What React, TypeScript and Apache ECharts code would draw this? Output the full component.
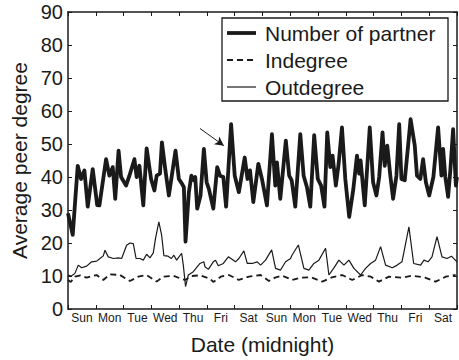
import React, { useEffect, useRef } from "react";
import * as echarts from "echarts";

const dayLabels = ["Sun", "Mon", "Tue", "Wed", "Thu", "Fri", "Sat", "Sun", "Mon", "Tue", "Wed", "Thu", "Fri", "Sat"];
const yTicks = [0, 90, 10];
const seriesNames = ["Number of partner", "Indegree", "Outdegree"];

const partnerDays = [0, 0.17, 0.35, 0.47, 0.59, 0.71, 0.89, 1.05, 1.13, 1.37, 1.49, 1.61, 1.7, 1.82, 1.91, 2.09, 2.21, 2.39, 2.47, 2.57, 2.71, 2.83, 2.99, 3.11, 3.19, 3.31, 3.38, 3.49, 3.63, 3.87, 3.99, 4.1, 4.17, 4.23, 4.35, 4.44, 4.53, 4.58, 4.65, 4.77, 4.89, 4.99, 5.07, 5.23, 5.37, 5.47, 5.59, 5.69, 5.87, 6.0, 6.15, 6.36, 6.46, 6.55, 6.67, 6.85, 6.99, 7.16, 7.34, 7.46, 7.52, 7.64, 7.84, 7.96, 8.05, 8.18, 8.36, 8.48, 8.6, 8.72, 8.86, 8.99, 9.11, 9.23, 9.33, 9.44, 9.52, 9.64, 9.74, 9.86, 9.98, 10.12, 10.27, 10.4, 10.48, 10.53, 10.68, 10.86, 10.98, 11.1, 11.2, 11.32, 11.4, 11.49, 11.6, 11.7, 11.82, 11.92, 12.0, 12.12, 12.24, 12.33, 12.48, 12.56, 12.68, 12.78, 12.88, 13.0, 13.15, 13.32, 13.44, 13.5, 13.58, 13.68, 13.76, 13.86, 13.96, 14.0];
const partnerValues = [29, 22.5, 43.4, 39.4, 42, 31, 42.4, 31.5, 31.4, 45.4, 40.4, 43, 33.4, 48, 40, 37.4, 40.4, 45.4, 40, 43.4, 31.4, 48.7, 39.4, 35.9, 40.4, 41, 50.5, 43, 34.4, 48, 39.4, 38, 36.9, 20.4, 35.4, 40.4, 39, 40, 30.4, 34.4, 48.5, 38.4, 36.4, 30.4, 43, 40.4, 40, 31, 56, 40.4, 35.4, 45.9, 39.4, 42, 32.4, 44, 39, 31.4, 53, 37.4, 44.4, 33.4, 51, 40.4, 39, 31, 53, 40.4, 36.9, 31, 52.7, 39.4, 37.4, 31, 53.5, 43, 46.5, 37.4, 44, 55, 39.4, 27.9, 36.4, 46.5, 41, 45, 31.4, 55, 38.4, 34.4, 40, 53.5, 43.4, 49.5, 40.4, 33.4, 40.4, 56, 39.4, 39, 49.5, 57.5, 49.5, 40.4, 39.4, 45.4, 38.4, 34.4, 40, 55, 40.4, 48.5, 40, 34, 42, 54.5, 37.4, 40];

const inDays = [0, 0.1, 0.25, 0.45, 0.67, 1.03, 1.27, 1.51, 1.87, 2.23, 2.53, 2.83, 3.19, 3.43, 3.79, 4.03, 4.21, 4.45, 4.75, 5.11, 5.23, 5.5, 5.79, 6.15, 6.51, 6.93, 7.23, 7.45, 7.71, 8.07, 8.37, 8.75, 9.15, 9.5, 9.87, 10.23, 10.59, 10.9, 11.19, 11.55, 12.02, 12.4, 12.85, 13.23, 13.6, 13.95];
const inValues = [8.8, 8.2, 9.8, 10.2, 9.5, 10.3, 8.8, 10.5, 10.3, 8.5, 9.8, 10.3, 8.3, 9.8, 10.1, 9.3, 8.8, 10, 10.2, 9.2, 8.2, 9.8, 10.3, 8.8, 9.8, 10.3, 8.5, 9.5, 10.1, 8.8, 9.5, 9.6, 8.3, 9.6, 10.3, 8.8, 10.3, 9.8, 8.3, 9.8, 9.5, 10.1, 9.5, 8.3, 9.8, 10.3];

const outDays = [0, 0.12, 0.25, 0.37, 0.49, 0.67, 0.85, 1.03, 1.15, 1.27, 1.33, 1.45, 1.63, 1.81, 1.93, 2.11, 2.23, 2.35, 2.45, 2.59, 2.71, 2.83, 2.95, 3.07, 3.15, 3.27, 3.37, 3.45, 3.6, 3.72, 3.81, 3.91, 4.09, 4.15, 4.23, 4.33, 4.51, 4.75, 4.89, 4.93, 5.05, 5.23, 5.31, 5.41, 5.59, 5.77, 5.85, 6.03, 6.15, 6.33, 6.45, 6.63, 6.81, 6.93, 7.11, 7.33, 7.47, 7.65, 7.83, 8.01, 8.06, 8.29, 8.49, 8.67, 8.85, 9.03, 9.27, 9.39, 9.56, 9.75, 9.93, 10.11, 10.29, 10.53, 10.71, 10.89, 11.07, 11.25, 11.43, 11.67, 11.85, 12.02, 12.27, 12.44, 12.69, 12.81, 12.96, 13.1, 13.28, 13.46, 13.64, 13.8, 14.0];
const outValues = [10.3, 10, 10.8, 13.3, 12.5, 13, 14.3, 14.5, 15.3, 16.1, 17.8, 15.8, 15.3, 15.5, 15.3, 19.3, 20, 19.8, 15.3, 15.3, 14.8, 16.6, 15.5, 17, 21.4, 26.4, 22.4, 16.2, 16, 15.3, 16.3, 14.8, 16.9, 13.3, 6.8, 10.3, 11.3, 13.8, 14.3, 12.8, 12, 14.3, 14.8, 13.1, 13.8, 15.8, 15.4, 14.3, 15.3, 17.6, 13.8, 13.8, 14.3, 13.3, 14.8, 17.9, 12.3, 11.8, 14.3, 15.3, 16.3, 19.4, 12.3, 11.8, 13.8, 14.8, 18.4, 10.3, 12.3, 14.8, 13.3, 14.8, 12.3, 10.3, 12.3, 13.8, 14.8, 18.9, 13.3, 12.5, 13.3, 14.3, 24.9, 13.8, 13.3, 14.8, 14.3, 15.8, 21.9, 15.8, 15.3, 16, 14.3];

const arrowFrom = [4.75, 54.7];
const arrowTo = [5.61, 49.5];

const zip = (xs: number[], ys: number[]) => xs.map((x, i) => [x, ys[i]]);

const FONT = "'Liberation Sans', Arial, Helvetica, sans-serif";
const INK = "#1a1a1a";

const lineStyles = [
  { width: 3.8, dash: null as null | number[] },
  { width: 1.8, dash: [6, 4] as null | number[] },
  { width: 1.2, dash: null as null | number[] },
];

export default function App() {
  const ref = useRef<HTMLDivElement>(null);
  useEffect(() => {
    if (!ref.current) return;
    const chart = echarts.init(ref.current, undefined, { renderer: "svg" });
    const axisLine = { show: true, lineStyle: { color: INK, width: 1.5 } };
    const tick = { show: true, inside: true, length: 4, lineStyle: { color: INK, width: 1 } };

    // legend drawn as graphic (MATLAB-style line keys)
    const legendBox = { x: 222, y: 18, w: 226, h: 83 };
    const rowY = [33, 60, 87];
    const legendChildren: any[] = [
      {
        type: "rect",
        shape: { x: legendBox.x, y: legendBox.y, width: legendBox.w, height: legendBox.h },
        style: { fill: "#fff", stroke: INK, lineWidth: 1.3 },
      },
    ];
    seriesNames.forEach((name, i) => {
      legendChildren.push({
        type: "line",
        shape: { x1: 227, y1: rowY[i], x2: 256, y2: rowY[i] },
        style: {
          stroke: INK,
          lineWidth: lineStyles[i].width,
          lineDash: lineStyles[i].dash || undefined,
        },
      });
      legendChildren.push({
        type: "text",
        x: 265,
        y: rowY[i],
        style: {
          text: name,
          fill: INK,
          font: `21px ${FONT}`,
          verticalAlign: "middle",
          align: "left",
        },
      });
    });

    chart.setOption({
      animation: false,
      backgroundColor: "#fff",
      textStyle: { fontFamily: FONT },
      grid: { left: 68, right: 2, top: 12, bottom: 49, containLabel: false },
      graphic: [{ type: "group", z: 100, children: legendChildren }],
      xAxis: [
        {
          type: "category",
          data: dayLabels,
          boundaryGap: true,
          position: "bottom",
          axisLine,
          axisTick: { ...tick, alignWithLabel: false, interval: 0 },
          axisLabel: { interval: 0, fontSize: 12, color: INK, margin: 3, fontFamily: FONT },
          name: "Date (midnight)",
          nameLocation: "middle",
          nameGap: 25,
          nameTextStyle: { fontSize: 21, color: INK, fontFamily: FONT },
          splitLine: { show: false },
        },
        {
          type: "value",
          min: 0,
          max: dayLabels.length,
          show: false,
        },
        {
          type: "category",
          data: dayLabels,
          boundaryGap: true,
          position: "top",
          axisLine,
          axisTick: { ...tick, alignWithLabel: false, interval: 0 },
          axisLabel: { show: false },
          splitLine: { show: false },
        },
      ],
      yAxis: [
        {
          type: "value",
          min: yTicks[0],
          max: yTicks[1],
          interval: yTicks[2],
          position: "left",
          axisLine,
          axisTick: tick,
          axisLabel: { fontSize: 20, color: INK, margin: 5, fontFamily: FONT },
          splitLine: { show: false },
          name: "Average peer degree",
          nameLocation: "middle",
          nameGap: 32,
          nameTextStyle: { fontSize: 21, color: INK, fontFamily: FONT },
        },
        {
          type: "value",
          min: yTicks[0],
          max: yTicks[1],
          interval: yTicks[2],
          position: "right",
          axisLine,
          axisTick: tick,
          axisLabel: { show: false },
          splitLine: { show: false },
        },
      ],
      series: [
        {
          name: seriesNames[0],
          type: "line",
          xAxisIndex: 1,
          yAxisIndex: 0,
          data: zip(partnerDays, partnerValues),
          symbol: "none",
          lineStyle: { color: INK, width: lineStyles[0].width, join: "round" },
          itemStyle: { color: INK },
          z: 3,
          markLine: {
            silent: true,
            symbol: ["none", "arrow"],
            symbolSize: [7, 9],
            label: { show: false },
            lineStyle: { color: INK, width: 1, type: "solid" },
            data: [[{ coord: arrowFrom }, { coord: arrowTo }]],
          },
        },
        {
          name: seriesNames[1],
          type: "line",
          xAxisIndex: 1,
          yAxisIndex: 0,
          data: zip(inDays, inValues),
          symbol: "none",
          lineStyle: { color: INK, width: lineStyles[1].width, type: lineStyles[1].dash },
          itemStyle: { color: INK },
          z: 2,
        },
        {
          name: seriesNames[2],
          type: "line",
          xAxisIndex: 1,
          yAxisIndex: 0,
          data: zip(outDays, outValues),
          symbol: "none",
          lineStyle: { color: INK, width: lineStyles[2].width },
          itemStyle: { color: INK },
          z: 2,
        },
      ],
    });
    return () => chart.dispose();
  }, []);
  return <div ref={ref} style={{ position: "absolute", left: 0, top: 0, width: 459, height: 360 }} />;
}
